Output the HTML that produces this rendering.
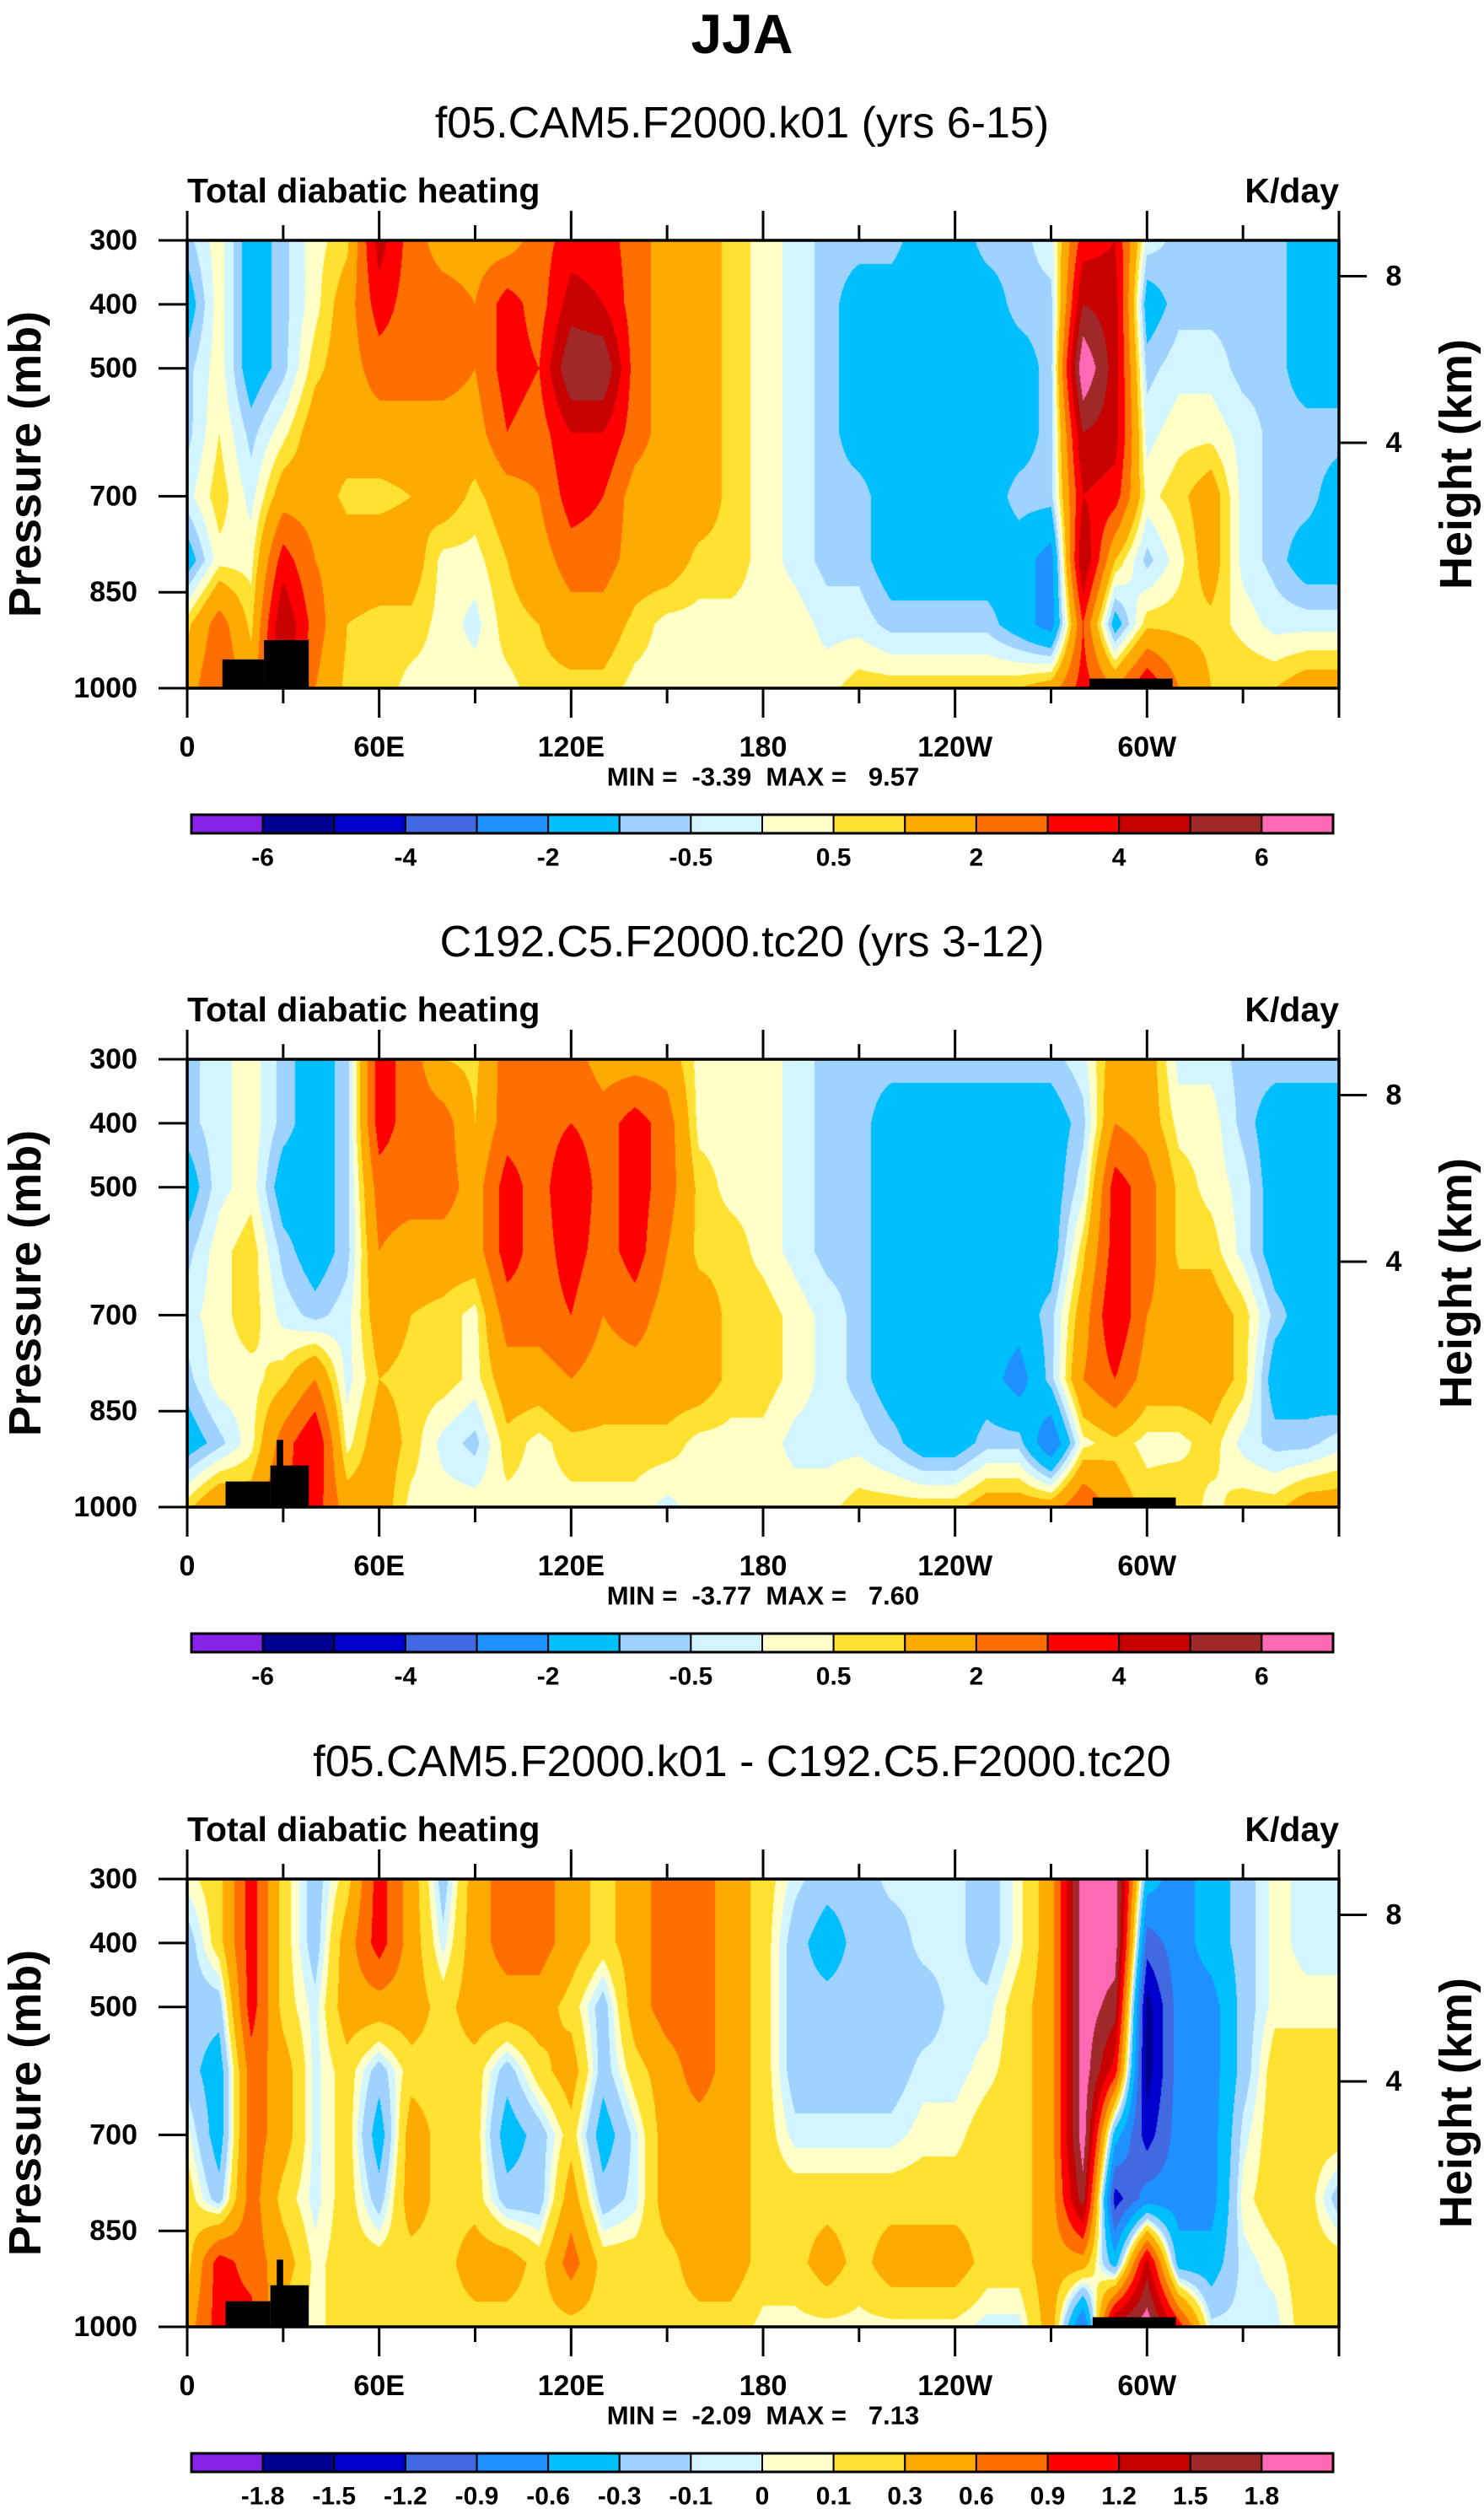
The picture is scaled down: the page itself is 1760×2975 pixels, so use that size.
<!DOCTYPE html>
<html><head><meta charset="utf-8">
<style>
html,body{margin:0;padding:0;background:#fff;}
body{width:1760px;height:2975px;position:relative;overflow:hidden;font-family:"Liberation Sans",Arial,sans-serif;}
canvas{position:absolute;}
svg{position:absolute;left:0;top:0;}
</style></head>
<body>
<canvas id="c0"></canvas>
<canvas id="c1"></canvas>
<canvas id="c2"></canvas>
<svg id="s" width="1760" height="2975" xmlns="http://www.w3.org/2000/svg"></svg>
<script>
// ---- data ----
const lons=[0,10,20,30,40,50,60,70,80,90,100,110,120,130,140,150,160,170,180,190,200,210,220,230,240,250,260,270,280,290,300,310,320,330,340,350,360];
const plevs=[300,400,500,600,700,800,900,1000];
const field1=[
[-0.7,-1.5,-0.7,-0.7,-0.2,-1.5,0.8,1.5],
[0.3,0.3,0.3,0.5,0.8,0.3,2.5,3],
[-1.5,-1.5,-1.5,-0.7,-0.2,0.3,0.8,1.5],
[-0.7,-0.7,-0.7,0.3,1.5,3.5,5,5],
[0.3,0.3,0.8,1.5,1.5,2,2.5,2],
[0.8,1.5,1.5,1.5,0.8,1.5,1,0.8],
[4.5,3.5,2.5,1.5,0.8,1.5,0.8,0.8],
[2.5,2.5,2.5,1.5,1,1.5,0.8,0.3],
[1.5,2.5,2.5,1.5,1.5,0.3,0.3,0.3],
[1.5,2,2,1.5,0.8,0.3,-0.2,0.3],
[1.5,3.5,3.5,3,1.5,1,0.8,0.3],
[2.5,2.5,3,2.5,2,1.5,1,0.8],
[3.5,4.5,6,4,3.5,2.5,1.5,0.8],
[3.5,4,6,4,3,2.5,1.5,0.8],
[2.5,2.5,2.5,2.5,1.5,1.5,0.8,0.3],
[1.5,1.5,1.5,1.5,1.5,1.5,0.3,0.3],
[1.5,1.5,1.5,1.5,1.5,0.8,0.3,0.3],
[0.8,0.8,0.8,0.8,0.8,0.8,0.3,0.3],
[0.3,0.3,0.3,0.3,0.3,0.3,0.3,0.3],
[-0.2,-0.2,-0.2,-0.2,-0.2,-0.2,0.3,0.3],
[-0.7,-0.7,-0.7,-0.7,-0.7,-0.7,-0.2,0.3],
[-0.7,-1.5,-1.5,-1.5,-0.7,-0.7,-0.2,0.8],
[-0.7,-1.5,-1.5,-1.5,-1.5,-1.5,-0.7,0.8],
[-1.5,-1.5,-1.5,-1.5,-1.5,-1.5,-0.7,0.8],
[-1.5,-1.5,-1.5,-1.5,-1.5,-1.5,-0.7,0.8],
[-0.7,-1.5,-1.5,-1.5,-1.5,-1.5,-0.7,0.8],
[-0.7,-0.7,-1.5,-1.5,-0.7,-1.5,-1.5,1],
[-0.2,-0.7,-0.7,-0.7,-0.7,-2.5,-2.5,1.5],
[3.5,5,7,5,4,5,3,3.5],
[4,4.5,4.5,4.5,3.5,1,-1.5,2],
[-0.2,-1.5,-0.7,-0.2,0.3,-0.7,0.8,4],
[-0.7,-0.7,-0.2,0.3,0.8,0.3,0.8,2],
[-0.7,-0.7,-0.2,0.3,1.5,1.5,0.8,1],
[-0.7,-0.7,-0.7,-0.2,-0.2,-0.2,0.3,1],
[-0.7,-0.7,-0.7,-0.7,-0.7,-0.7,-0.2,1],
[-1.5,-1.5,-1.5,-0.7,-0.7,-1.5,-0.2,1.5],
[-1.5,-1.5,-1.5,-0.7,-1.5,-1.5,-0.2,1.5]];
const field2=[
[-0.7,-0.7,-1.5,-0.7,-0.2,-0.7,-1.5,0.8],
[-0.2,-0.2,-0.2,0.3,0.3,0.3,-0.7,2],
[0.3,0.3,0.3,0.8,0.8,0.3,0.3,1.5],
[-0.7,-0.7,-1.5,-0.7,-0.2,0.8,2.5,3],
[-1.5,-1.5,-1.5,-1.5,-0.7,2,4,3.5],
[-0.7,-0.7,-0.7,-0.7,-0.2,-0.2,0.3,1.5],
[3.5,3.5,2.5,2,1.5,1,1.5,1.5],
[2.5,2.5,2.5,1.5,1,0.8,0.8,0.3],
[1,2.5,2.5,1.5,0.8,0.8,-0.2,0.3],
[0.8,1,1.5,1.5,0.3,0.3,-0.7,0.3],
[2.5,2.5,3.5,3.5,2.5,1.5,0.8,0.3],
[2,2.5,2.5,2.5,2.5,1.5,0.3,0.3],
[2.5,3,4,3.5,3,2,0.8,0.3],
[1.5,2.5,2.5,2.5,2,1.5,0.8,0.3],
[1.5,3.5,3.5,3.5,2.5,1.5,0.8,0.3],
[1.5,2.5,2.5,2,1.5,1.5,0.8,-0.2],
[0.3,0.3,0.8,0.8,1.5,1.5,0.3,0.3],
[0.3,0.3,0.3,0.8,0.8,0.8,0.3,0.3],
[0.3,0.3,0.3,0.3,0.8,0.8,0.3,0.3],
[-0.2,-0.2,-0.2,-0.2,0.3,0.3,-0.2,0.3],
[-0.7,-0.7,-0.7,-0.7,-0.2,-0.2,-0.2,0.3],
[-0.7,-0.7,-0.7,-0.7,-0.7,-0.7,-0.2,0.8],
[-0.7,-1.5,-1.5,-1.5,-1.5,-1.5,-0.7,0.8],
[-0.7,-1.5,-1.5,-1.5,-1.5,-1.5,-1.5,0.8],
[-0.7,-1.5,-1.5,-1.5,-1.5,-1.5,-1.5,0.8],
[-0.7,-1.5,-1.5,-1.5,-1.5,-1.5,-0.7,1.5],
[-0.7,-1.5,-1.5,-1.5,-1.5,-2.5,-0.7,1.5],
[-0.7,-1.5,-1.5,-1.5,-0.7,-0.7,-3,1.5],
[-0.2,-0.7,-0.2,0.8,1.5,2,0.3,3],
[1.5,2,3.5,3.5,4,3,0.8,1.5],
[1.5,1.5,2.5,2.5,2,1.5,0.3,0.8],
[-0.2,0.3,0.8,0.8,1.5,1.5,0.3,1],
[-0.2,0.3,0.3,0.8,1.5,1.5,0.8,0.3],
[-0.7,-0.7,-0.2,-0.2,0.8,0.8,-0.2,0.8],
[-0.7,-1.5,-1.5,-1.5,-0.7,-1.5,-0.7,0.8],
[-0.7,-1.5,-1.5,-1.5,-1.5,-1.5,-0.7,1.5],
[-0.7,-1.5,-1.5,-1.5,-1.5,-2,-0.2,1.5]];
const field3=[
[0.05,-0.2,-0.2,-0.2,0.05,0.2,0.2,0.45],
[0.2,0.2,-0.2,-0.45,-0.45,-0.2,1.05,1.05],
[1.05,1.05,1.05,0.75,0.75,0.75,0.75,1.05],
[0.2,0.2,0.2,0.45,0.45,0.2,0.45,0.2],
[-0.2,-0.2,-0.05,-0.05,-0.05,-0.05,0.05,0.05],
[0.2,0.45,0.45,0.2,0.2,0.2,0.2,0.2],
[1.05,1.05,0.45,-0.2,-0.45,-0.2,0.2,0.2],
[0.45,0.45,0.45,0.2,0.45,0.45,0.2,0.2],
[-0.2,-0.05,0.2,0.2,0.2,0.2,0.2,0.2],
[0.45,0.45,0.45,0.2,0.2,0.2,0.45,0.2],
[0.75,0.75,0.45,-0.2,-0.45,-0.2,0.45,0.2],
[0.75,0.75,0.45,0.2,-0.2,-0.2,0.2,0.2],
[0.45,0.45,0.2,0.45,0.2,0.45,0.75,0.2],
[0.2,0.2,-0.2,-0.2,-0.45,-0.2,0.2,0.2],
[0.45,0.45,0.45,0.2,-0.05,-0.05,0.2,0.2],
[0.75,0.75,0.75,0.45,0.45,0.45,0.2,0.2],
[0.75,0.75,0.75,0.75,0.45,0.45,0.45,0.2],
[0.45,0.45,0.45,0.45,0.45,0.45,0.45,0.2],
[0.2,0.2,0.2,0.2,0.2,0.2,0.2,0.05],
[-0.05,-0.2,-0.2,-0.2,-0.05,0.2,0.2,0.05],
[-0.2,-0.45,-0.2,-0.2,-0.05,0.2,0.45,0.05],
[-0.2,-0.2,-0.2,-0.2,-0.05,0.2,0.2,0.05],
[-0.05,-0.2,-0.2,-0.2,-0.05,0.2,0.45,0.05],
[-0.05,-0.05,-0.2,-0.05,0.05,0.2,0.45,0.05],
[-0.05,-0.05,-0.05,-0.05,0.05,0.2,0.45,0.05],
[-0.2,-0.2,-0.05,0.05,0.2,0.2,0.2,-0.05],
[0.05,0.05,0.2,0.2,0.2,0.2,0.2,-0.05],
[0.45,0.45,0.45,0.45,0.45,0.45,0.45,0.45],
[2,2,2,2,2,1.65,0.45,-1.0],
[2,2,1.65,1.05,-0.45,-1.35,-0.45,1.65],
[-0.45,-1.05,-1.65,-1.65,-1.35,-0.75,1.35,2],
[-0.75,-0.75,-0.75,-0.75,-0.75,-0.75,-0.45,1.05],
[-0.45,-0.45,-0.75,-0.75,-0.75,-0.75,-0.45,-0.05],
[-0.2,-0.2,-0.2,-0.2,-0.05,0.05,-0.05,-0.05],
[0.05,0.05,0.05,0.2,0.2,0.2,0.05,-0.05],
[-0.05,-0.05,0.05,0.2,0.2,0.2,0.2,0.2],
[-0.05,-0.05,0.05,0.2,0.2,-0.2,0.2,0.2]];
const levels1=[-6,-5,-4,-3,-2,-1,-0.5,0,0.5,1,2,3,4,5,6];
const levels3=[-1.8,-1.5,-1.2,-0.9,-0.6,-0.3,-0.1,0,0.1,0.3,0.6,0.9,1.2,1.5,1.8];
const cbLabels1=['-6','','-4','','-2','','-0.5','','0.5','','2','','4','','6'];
const cbLabels3=['-1.8','-1.5','-1.2','-0.9','-0.6','-0.3','-0.1','0','0.1','0.3','0.6','0.9','1.2','1.5','1.8'];
const palette=['#8722e8','#000090','#0000cd','#4169e1','#1e90ff','#00bfff','#a0d2ff','#d2f5ff','#ffffc8','#ffe132','#ffaa00','#ff6e00','#ff0000','#c80000','#a02828','#ff69b4'];
const topo1=[[11,24,955],[24,38,925],[282,308,985]];
const topo2=[[12,26,960],[26,38,935],[28,30,895],[283,309,985]];
const topo3=[[12,26,960],[26,38,935],[28,30,895],[283,309,985]];
const subtitles=['f05.CAM5.F2000.k01 (yrs 6-15)','C192.C5.F2000.tc20 (yrs 3-12)','f05.CAM5.F2000.k01 - C192.C5.F2000.tc20'];
const minVals=['-3.39','-3.77','-2.09'];
const maxVals=['9.57','7.60','7.13'];
const xTickLons=[0,60,120,180,240,300];
const xTickLabels=['0','60E','120E','180','120W','60W'];
const yTickP=[300,400,500,700,850,1000];
const yTickLabels=['300','400','500','700','850','1000'];
const hTickKm=[8,4];
// ---- layout ----
const PL=222,PR=1588,PW=PR-PL,PH=531;
const offsets=[0,971,1943];
const PT0=285;
const svg=document.getElementById('s');
const NS='http://www.w3.org/2000/svg';
function mk(tag,attrs,parent){const e=document.createElementNS(NS,tag);for(const k in attrs)e.setAttribute(k,attrs[k]);(parent||svg).appendChild(e);return e;}
function txt(x,y,s,size,weight,anchor,parent){const t=mk('text',{x:x,y:y,'font-size':size,'font-weight':weight,'text-anchor':anchor,'dominant-baseline':'central','font-family':'Liberation Sans, Arial, sans-serif',fill:'#000'},parent);t.textContent=s;return t;}
function xs(lon){return PL+lon/360*PW;}
function ys(p,top){return top+(p-300)/700*PH;}
function kmToP(km){return 1013.25*Math.pow(1-2.25577e-5*km*1000,5.25588);}
function hexToRgb(h){return [parseInt(h.slice(1,3),16),parseInt(h.slice(3,5),16),parseInt(h.slice(5,7),16)];}
const palRgb=palette.map(hexToRgb);
function binOf(v,lev){let i=0;while(i<lev.length&&v>=lev[i])i++;return i;}

const t0=txt(880,40,'JJA',66,'bold','middle');



const fields=[field1,field2,field3];
const levs=[levels1,levels1,levels3];
const cbls=[cbLabels1,cbLabels1,cbLabels3];
const topos=[topo1,topo2,topo3];

for(let k=0;k<3;k++){
  const off=offsets[k],top=PT0+off,bot=top+PH;
  const g=mk('g',{});
  
  
  const cv=document.getElementById('c'+k);
  cv.width=PW;cv.height=PH;cv.style.left=PL+'px';cv.style.top=top+'px';
  const ctx=cv.getContext('2d');const img=ctx.createImageData(PW,PH);
  const F=fields[k],L=levs[k];
  for(let i=0;i<PW;i++){
    const lon=(i+0.5)/PW*360;
    let c=0;while(c<lons.length-2&&lon>lons[c+1])c++;
    const fx=(lon-lons[c])/(lons[c+1]-lons[c]);
    for(let j=0;j<PH;j++){
      const p=300+(j+0.5)/PH*700;
      let r=0;while(r<plevs.length-2&&p>plevs[r+1])r++;
      const fy=(p-plevs[r])/(plevs[r+1]-plevs[r]);
      const v=(F[c][r]*(1-fx)+F[c+1][r]*fx)*(1-fy)+(F[c][r+1]*(1-fx)+F[c+1][r+1]*fx)*fy;
      const col=palRgb[binOf(v,L)];
      const o=(j*PW+i)*4;img.data[o]=col[0];img.data[o+1]=col[1];img.data[o+2]=col[2];img.data[o+3]=255;
    }
  }
  ctx.putImageData(img,0,0);
  topos[k].forEach(b=>{
    const r=mk('rect',{x:xs(b[0]),y:ys(b[2],top),width:xs(b[1])-xs(b[0]),height:bot-ys(b[2],top),fill:'#000'},g);
    
    
  });
  const fr=mk('rect',{x:PL,y:top,width:PW,height:PH,fill:'none',stroke:'#000','stroke-width':3.5},g);
  
  
  for(let lon=0;lon<=360;lon+=30){
    const major=(lon%60===0);const len=major?35:18;const x=xs(lon);
    const tb=mk('line',{x1:x,y1:bot,x2:x,y2:bot+len,stroke:'#000','stroke-width':3},g);
    
    
    const tt=mk('line',{x1:x,y1:top,x2:x,y2:top-len,stroke:'#000','stroke-width':3},g);
    
    
  }
  xTickLons.forEach((lon,i)=>{
    const t=txt(xs(lon),bot+70,xTickLabels[i],34,'bold','middle',g);
    
    
  });
  yTickP.forEach((p,i)=>{
    const y=ys(p,top);
    const l=mk('line',{x1:PL-34,y1:y,x2:PL,y2:y,stroke:'#000','stroke-width':3},g);
    
    
    const t=txt(163,y,yTickLabels[i],34,'bold','end',g);
    
    
  });
  hTickKm.forEach(km=>{
    const y=ys(kmToP(km),top);
    const l=mk('line',{x1:PR,y1:y,x2:PR+33,y2:y,stroke:'#000','stroke-width':3},g);
    
    
    const t=txt(1653,y,String(km),34,'bold','middle',g);
    
    
  });
  const yl=txt(0,0,'Pressure (mb)',54,'bold','middle',g);
  yl.setAttribute('transform','translate(30,'+(top+PH/2)+') rotate(-90)');
  
  
  const hl=txt(0,0,'Height (km)',54,'bold','middle',g);
  hl.setAttribute('transform','translate(1727,'+(top+PH/2)+') rotate(-90)');
  
  
  const st=txt(880,146+off,subtitles[k],52,'normal','middle',g);
  
  
  const lt=txt(PL,226+off,'Total diabatic heating',41,'bold','start',g);
  
  
  const ut=txt(PR,226+off,'K/day',41,'bold','end',g);
  
  
  const mm=txt(905,921+off,'MIN = \u00a0'+minVals[k]+'\u00a0 MAX = \u00a0 '+maxVals[k],31,'bold','middle',g);
  
  
  const cbL=227,cbR=1581,cbT=966+off,cbH=22,bw=(cbR-cbL)/palette.length;
  palette.forEach((c,i)=>{
    const r=mk('rect',{x:cbL+i*bw,y:cbT,width:bw,height:cbH,fill:c,stroke:'#000','stroke-width':2},g);
    
    
  });
  const cbf=mk('rect',{x:cbL,y:cbT,width:cbR-cbL,height:cbH,fill:'none',stroke:'#000','stroke-width':3},g);
  
  
  cbls[k].forEach((s,i)=>{
    if(!s)return;
    const t=txt(cbL+(i+1)*bw,1017+off,s,30,'bold','middle',g);
    
    
  });
}
</script>
</body></html>
